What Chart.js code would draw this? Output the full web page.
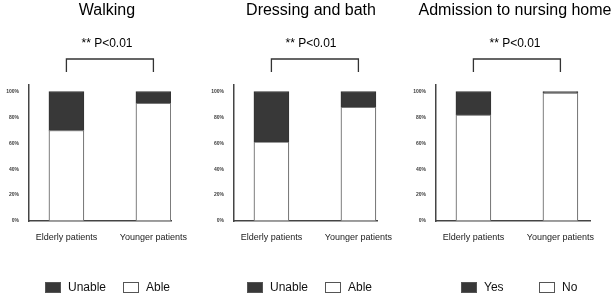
<!DOCTYPE html>
<html>
<head>
<meta charset="utf-8">
<script src="https://cdn.jsdelivr.net/npm/chart.js@4/dist/chart.umd.min.js"></script>
<style>
html, body { margin: 0; padding: 0; background: #fff; width: 614px; height: 297px; overflow: hidden; }
.panel { position: absolute; top: 0; width: 220px; height: 297px; }
</style>
</head>
<body>
<div class="panel" style="left:0"><canvas id="walking" width="220" height="297"></canvas></div>
<div class="panel" style="left:205px"><canvas id="dressing" width="220" height="297"></canvas></div>
<div class="panel" style="left:407px"><canvas id="nursing" width="220" height="297"></canvas></div>
<script>
// Data (percent of patients)
const groups = ['Elderly patients', 'Younger patients'];
const yTicks = [0, 20, 40, 60, 80, 100];
const pText = '** P<0.01';

const walkingAble = [70, 91];
const walkingUnable = [30, 9];
const dressingAble = [61, 88];
const dressingUnable = [39, 12];
const nursingNo = [82, 99];
const nursingYes = [18, 1];

const FONT = "'Liberation Sans', Arial, sans-serif";
const DARK = '#383838';

// bracket over the two bars
const bracketPlugin = {
    id: 'bracket',
    afterDraw(chart) {
        const x = chart.scales.x, top = chart.chartArea.top;
        const x1 = x.getPixelForValue(0), x2 = x.getPixelForValue(1);
        const ctx = chart.ctx;
        ctx.save();
        ctx.strokeStyle = '#333';
        ctx.lineWidth = 1.3;
        ctx.beginPath();
        ctx.moveTo(x1, top - 13);
        ctx.lineTo(x1, top - 26);
        ctx.lineTo(x2, top - 26);
        ctx.lineTo(x2, top - 13);
        ctx.stroke();
        ctx.restore();
    }
};

// legend drawn at fixed columns, dark item first
const boxLegendPlugin = {
    id: 'boxLegend',
    afterDraw(chart, args, opts) {
        const ctx = chart.ctx;
        const items = chart.data.datasets.slice().reverse();
        ctx.save();
        items.forEach((ds, i) => {
            const bx = opts.x + i * 78, by = 282;
            ctx.fillStyle = ds.backgroundColor;
            ctx.fillRect(bx, by, 16, 11);
            ctx.strokeStyle = '#555';
            ctx.lineWidth = 1;
            ctx.strokeRect(bx + 0.5, by + 0.5, 15, 10);
            ctx.fillStyle = '#111';
            ctx.font = '12px ' + FONT;
            ctx.textBaseline = 'middle';
            ctx.fillText(ds.label, bx + 23, by + 6);
        });
        ctx.restore();
    }
};

// right: chart area right edge, spare: empty space right of the plot so titles centre where they should
function makeChart(id, title, lowLabel, low, highLabel, high, right, spare, legendX) {
    const toPts = arr => arr.map((v, i) => ({ x: i, y: v }));
    const xMin = -0.43;
    const xMax = xMin + (right - 29) / 87;
    new Chart(document.getElementById(id), {
        type: 'bar',
        data: {
            datasets: [
                { label: lowLabel, data: toPts(low), backgroundColor: '#ffffff', borderColor: '#777', borderWidth: 1.2, borderSkipped: false, barThickness: 35 },
                { label: highLabel, data: toPts(high), backgroundColor: DARK, borderColor: '#333', borderWidth: 1, borderSkipped: false, barThickness: 35 }
            ]
        },
        options: {
            responsive: false,
            animation: false,
            layout: { padding: { left: 0, right: 220 - right - spare, top: 0, bottom: 0 } },
            scales: {
                x: {
                    type: 'linear',
                    stacked: true,
                    offset: false,
                    min: xMin,
                    max: xMax,
                    grid: { display: false, drawTicks: false, offset: false },
                    border: { display: true, color: '#444', width: 1.5 },
                    afterBuildTicks: s => { s.ticks = groups.map((g, i) => ({ value: i })); },
                    afterFit: s => { s.height = 76; },
                    ticks: {
                        autoSkip: false, maxRotation: 0, padding: 11,
                        color: '#222', font: { family: FONT, size: 9 },
                        callback: v => groups[v]
                    }
                },
                y: {
                    stacked: true,
                    min: 0,
                    max: 105,
                    grid: { display: false, drawTicks: false },
                    border: { display: true, color: '#444', width: 1.5 },
                    afterBuildTicks: s => { s.ticks = yTicks.map(v => ({ value: v })); },
                    afterFit: s => { s.width = 29; },
                    ticks: {
                        padding: 10, color: '#3a3a3a',
                        font: { family: FONT, size: 5, weight: 'bold' },
                        callback: v => v + '%'
                    }
                },
                spare: {
                    type: 'linear',
                    position: 'right',
                    grid: { display: false, drawTicks: false },
                    border: { display: false },
                    ticks: { display: false },
                    afterFit: s => { s.width = spare; }
                }
            },
            plugins: {
                legend: { display: false },
                tooltip: { enabled: false },
                title: {
                    display: true, text: title, color: '#000',
                    font: { family: FONT, size: 16, weight: 'normal' },
                    padding: { top: 1, bottom: 16.6 }
                },
                subtitle: {
                    display: true, text: pText, color: '#000',
                    font: { family: FONT, size: 12 },
                    padding: { top: 0, bottom: 33.8 }
                },
                boxLegend: { x: legendX }
            }
        },
        plugins: [bracketPlugin, boxLegendPlugin]
    });
}

makeChart('walking', 'Walking', 'Able', walkingAble, 'Unable', walkingUnable, 171, 43, 45);
makeChart('dressing', 'Dressing and bath', 'Able', dressingAble, 'Unable', dressingUnable, 172, 40, 42);
makeChart('nursing', 'Admission to nursing home', 'No', nursingNo, 'Yes', nursingYes, 183, 33, 54);
</script>
</body>
</html>
